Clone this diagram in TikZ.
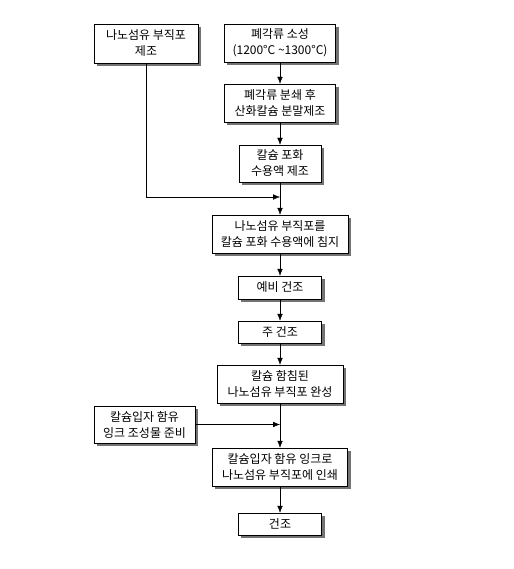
\documentclass[tikz,border=0pt]{standalone}
\usepackage{fontspec}
\setmainfont{Noto Sans CJK KR}
\usetikzlibrary{backgrounds,arrows.meta}
\tikzset{
  proc/.style={draw, thin, fill=white, align=center, inner sep=1pt,
    font=\fontsize{12}{16}\selectfont},
  flow/.style={-{Latex[length=7pt,width=5.5pt]}, thin},
  shade box/.style={fill=black!55}
}
\begin{document}
\begin{tikzpicture}[x=1pt,y=-1pt]
		\useasboundingbox (0,0) rectangle (513,569);
		% left column
		\node [proc, minimum width=104pt, minimum height=39pt](nano)at (146,43.5) {나노섬유 부직포\\제조};
		\node [proc, minimum width=101pt, minimum height=37pt](ink)at (144.5,424.5) {칼슘입자 함유\\잉크 조성물 준비};
		% main column
		\node [proc, minimum width=111pt, minimum height=38pt](fire)at (280,43) {폐각류 소성\\(1200°C \textasciitilde1300°C)};
		\node [proc, minimum width=111pt, minimum height=38pt](grind)at (280,103) {폐각류 분쇄 후\\산화칼슘 분말제조};
		\node [proc, minimum width=82pt, minimum height=37pt](sat)at (280,163.5) {칼슘 포화\\수용액 제조};
		\node [proc, minimum width=136pt, minimum height=38pt](dip)at (280,234) {나노섬유 부직포를\\칼슘 포화 수용액에 침지};
		\node [proc, minimum width=83pt, minimum height=23pt](pre)at (280,287.5) {예비 건조};
		\node [proc, minimum width=83pt, minimum height=22pt](main)at (280,332) {주 건조};
		\node [proc, minimum width=126pt, minimum height=38pt](done)at (280,384) {칼슘 함침된\\나노섬유 부직포 완성};
		\node [proc, minimum width=135pt, minimum height=38pt](print)at (280,467) {칼슘입자 함유 잉크로\\나노섬유 부직포에 인쇄};
		\node [proc, minimum width=83pt, minimum height=22pt](dry)at (280,524) {건조};
		% shadows
		\begin{scope}[on background layer]
		\foreach \nm in {nano,ink,fire,grind,sat,dip,pre,main,done,print,dry}
			\fill [shade box]([xshift=3pt,yshift=-3pt]\nm.south west)rectangle([xshift=3pt,yshift=-3pt]\nm.north east);
		\end{scope}
		% merge points
		\coordinate (m1) at (280,197);
		\coordinate (m2) at (280,424.5);
		% arrows
		\draw [flow](fire)--(grind);
		\draw [flow](grind)--(sat);
		\draw [flow](sat)--(dip);
		\draw [flow](nano.south)|-(m1);
		\draw [flow](dip)--(pre);
		\draw [flow](pre)--(main);
		\draw [flow](main)--(done);
		\draw [flow](done)--(print);
		\draw [flow](ink.east)--(m2);
		\draw [flow](print)--(dry);
	\end{tikzpicture}
\end{document}
